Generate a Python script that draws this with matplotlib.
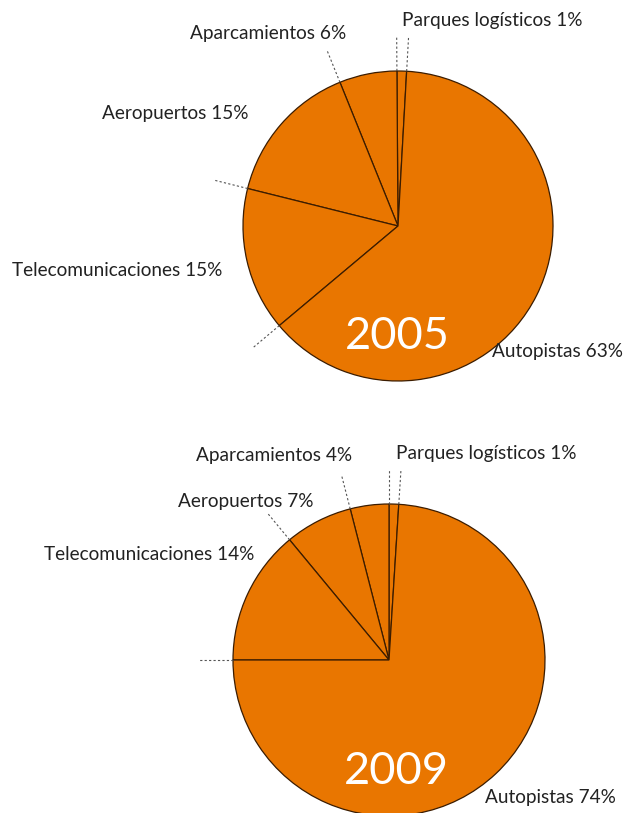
import matplotlib
matplotlib.use('Agg')
import matplotlib.pyplot as plt
import numpy as np

plt.rcParams['font.family'] = ['Lato', 'DejaVu Sans']

categories = ['Parques logísticos', 'Aparcamientos', 'Aeropuertos',
              'Telecomunicaciones', 'Autopistas']
values_2005 = [1, 6, 15, 15, 63]
values_2009 = [1, 4, 7, 14, 74]
years = ['2005', '2009']

W, H = 629, 813
orange = '#E97600'
edge = '#3b1c00'

fig = plt.figure(figsize=(W / 100, H / 100), dpi=100)
ax = fig.add_axes([0, 0, 1, 1])

# pixel layout (y measured from top of image)
pies = [
    dict(vals=values_2005, center=(398, 226), r=155, start=86.8,
         year_pos=(397, 336),
         labels=[(402, 20, 'left'), (346, 33, 'right'), (248, 113, 'right'),
                 (222, 270, 'right'), (492, 351, 'left')]),
    dict(vals=values_2009, center=(389, 660), r=156, start=86.4,
         year_pos=(396, 771),
         labels=[(396, 453, 'left'), (352, 455, 'right'), (313, 501, 'right'),
                 (254, 555, 'right'), (485, 797, 'left')]),
]

for p, year in zip(pies, years):
    cx, cy = p['center']
    cy = H - cy
    ax.pie(p['vals'], center=(cx, cy), radius=p['r'], startangle=p['start'],
           counterclock=True, colors=[orange] * len(p['vals']),
           wedgeprops=dict(edgecolor=edge, linewidth=0.9))
    # dotted leader lines at every slice boundary
    bounds = p['start'] + 360 * np.cumsum([0] + p['vals'][:-1]) / sum(p['vals'])
    for a in np.deg2rad(bounds):
        r0, r1 = p['r'], p['r'] * 1.22
        ax.plot([cx + r0 * np.cos(a), cx + r1 * np.cos(a)],
                [cy + r0 * np.sin(a), cy + r1 * np.sin(a)],
                color='#555555', linewidth=0.8, linestyle=(0, (2, 2)))
    for (lx, ly, ha), cat, v in zip(p['labels'], categories, p['vals']):
        ax.text(lx, H - ly, f'{cat} {v}%', ha=ha, va='center',
                fontsize=13.7, color='#222222')
    yx, yy = p['year_pos']
    ax.text(yx, H - yy, year, ha='center', va='center', fontsize=32.5,
            color='white')

ax.set_xlim(0, W)
ax.set_ylim(0, H)
ax.set_aspect('equal')
ax.axis('off')
fig.savefig('out.png', dpi=100, facecolor='white')
